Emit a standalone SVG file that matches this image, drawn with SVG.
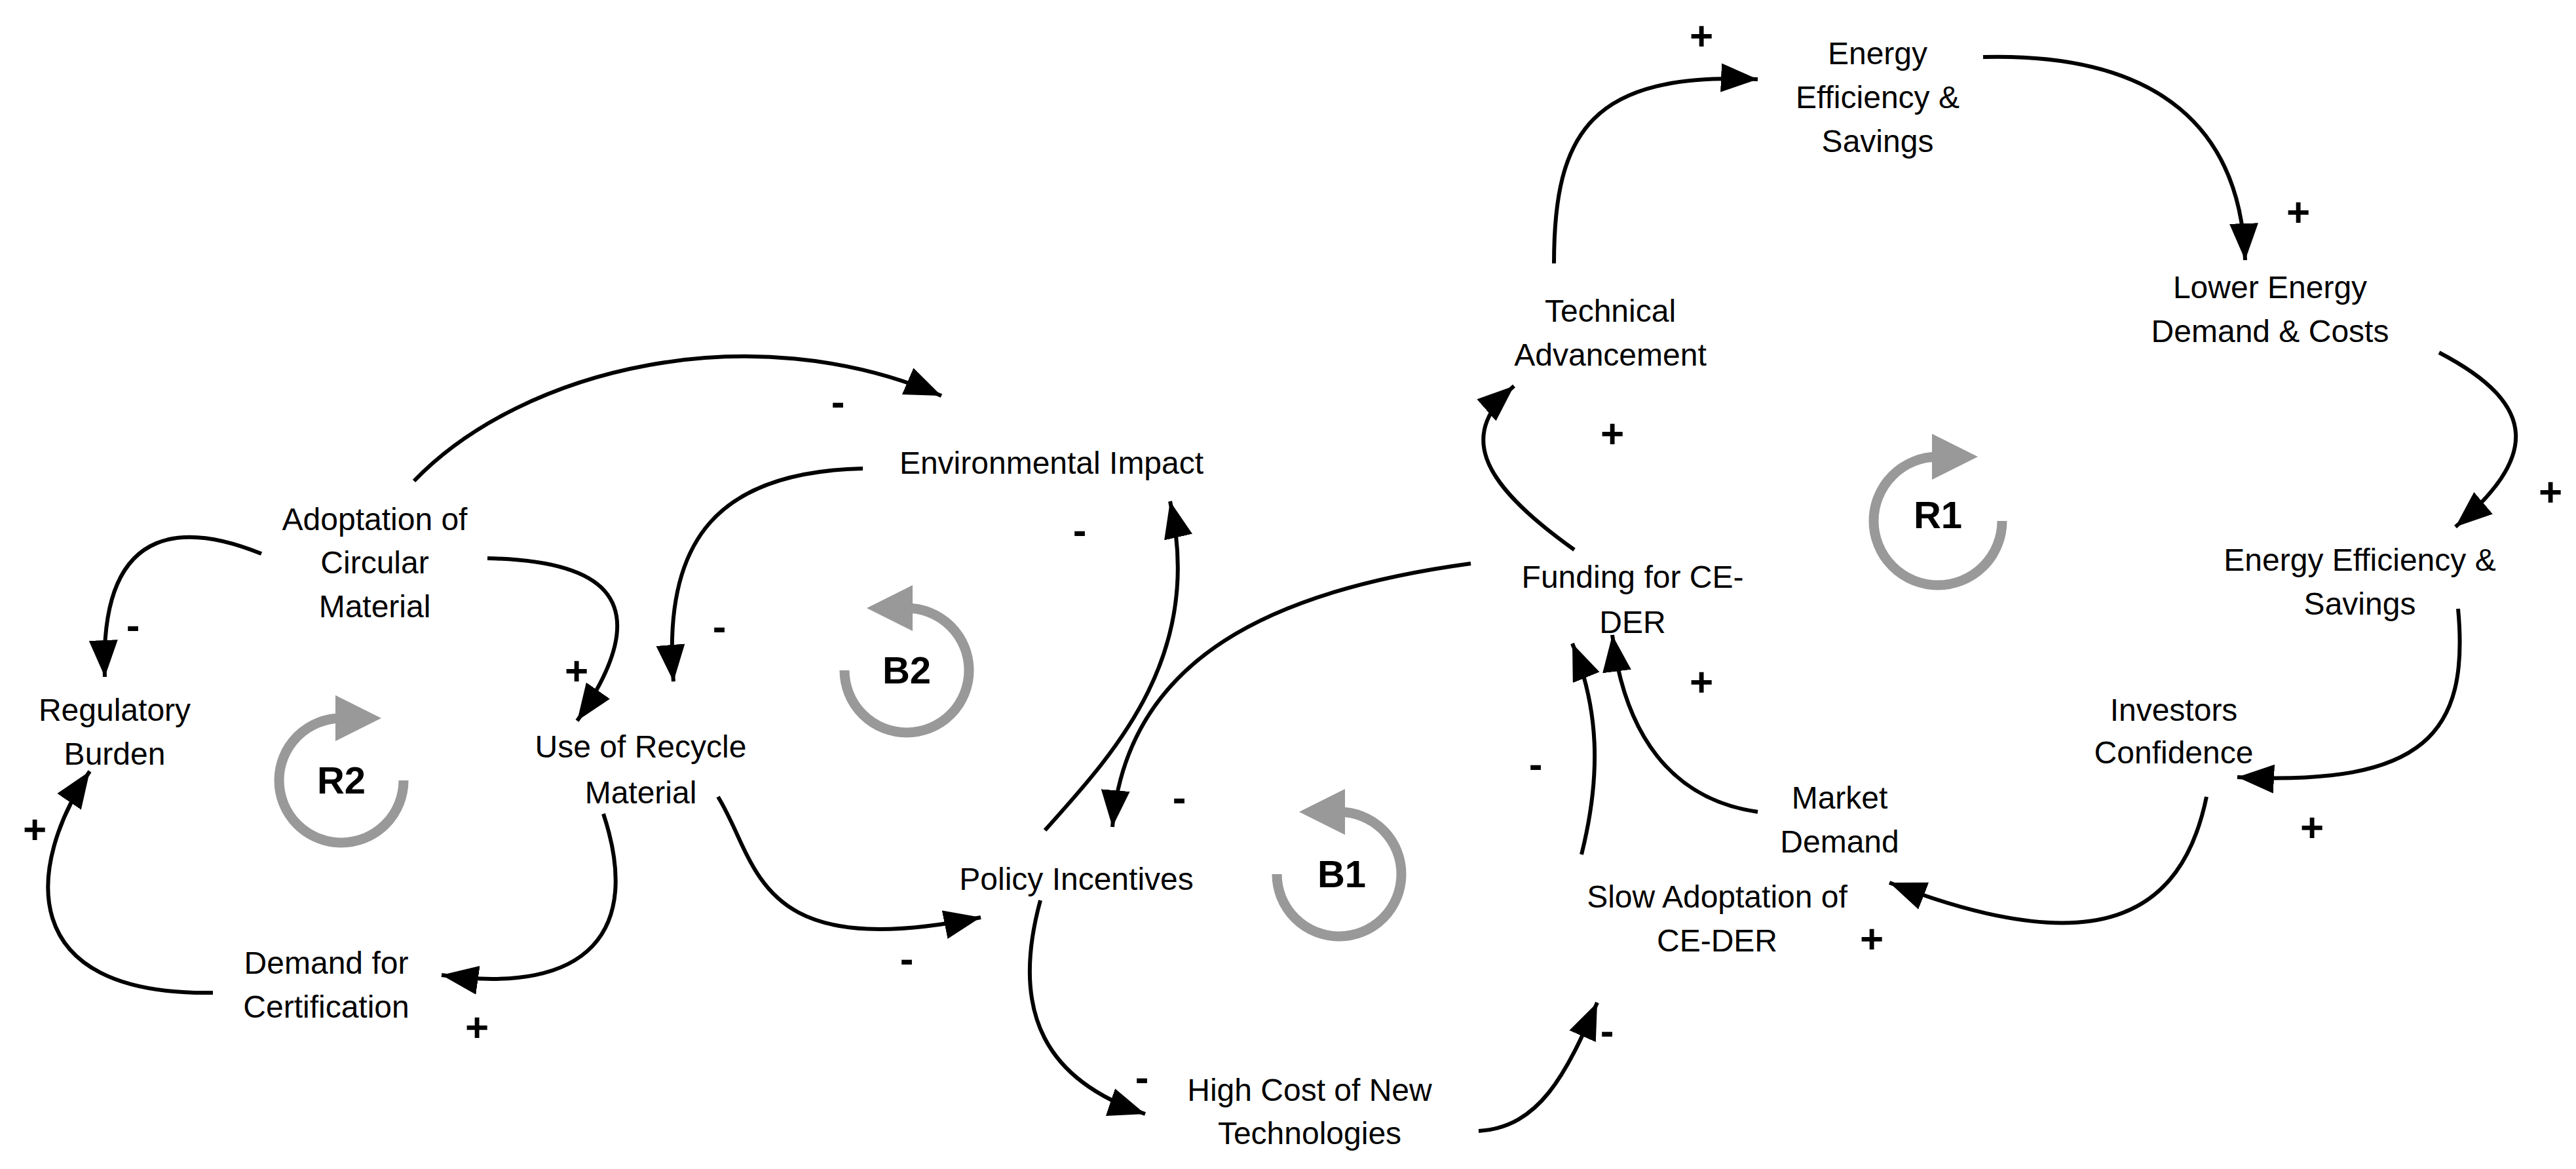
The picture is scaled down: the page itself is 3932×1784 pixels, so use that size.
<svg xmlns="http://www.w3.org/2000/svg" width="3932" height="1784" viewBox="0 0 3932 1784">
<style>
text{font-family:"Liberation Sans",Arial,sans-serif;fill:#000}
.n{font-size:48px;text-anchor:middle}
.s{font-size:62px;font-weight:bold;text-anchor:middle}
.lbl{font-size:58px;font-weight:bold;text-anchor:middle}
.c{fill:none;stroke:#000;stroke-width:6;marker-end:url(#ah)}
.loop{fill:none;stroke:#999;stroke-width:15}
.tri{fill:#999}
</style>
<defs>
<marker id="ah" markerUnits="userSpaceOnUse" markerWidth="60" markerHeight="50" refX="56" refY="22" orient="auto">
<path d="M0,0 L56,22 L0,44 Z" fill="#000"/>
</marker>
</defs>
<rect width="3932" height="1784" fill="#fff"/>
<g id="connectors">
<path class="c" d="M399,845 C300,805 150,780 160,1033"/>
<path class="c" d="M744,852 C900,855 1020,900 881,1100"/>
<path class="c" d="M921,1242 C980,1420 900,1520 674,1488"/>
<path class="c" d="M325,1515 C20,1520 40,1320 137,1177"/>
<path class="c" d="M632,734 C800,560 1150,480 1437,604"/>
<path class="c" d="M1317,715 C1100,720 1010,820 1028,1040"/>
<path class="c" d="M1096,1216 C1160,1320 1150,1470 1497,1400"/>
<path class="c" d="M1595,1267 C1700,1150 1840,1000 1786,765"/>
<path class="c" d="M2245,860 C1950,900 1720,1000 1698,1262"/>
<path class="c" d="M1588,1374 C1540,1550 1600,1650 1748,1700"/>
<path class="c" d="M2257,1726 C2350,1720 2390,1640 2438,1530"/>
<path class="c" d="M2414,1304 C2445,1180 2440,1080 2400,982"/>
<path class="c" d="M2683,1239 C2550,1220 2480,1120 2461,969"/>
<path class="c" d="M2403,839 C2250,730 2230,660 2311,589"/>
<path class="c" d="M2372,402 C2372,200 2430,110 2683,121"/>
<path class="c" d="M3027,87 C3300,80 3420,200 3427,397"/>
<path class="c" d="M3723,538 C3880,620 3870,700 3748,804"/>
<path class="c" d="M3752,929 C3770,1120 3700,1200 3415,1186"/>
<path class="c" d="M3368,1216 C3330,1400 3200,1470 2884,1347"/>
</g>
<g id="signs">
<text class="s" x="203" y="975">-</text>
<text class="s" x="880" y="1045">+</text>
<text class="s" x="53" y="1287">+</text>
<text class="s" x="728" y="1589">+</text>
<text class="s" x="1279" y="634">-</text>
<text class="s" x="1098" y="977">-</text>
<text class="s" x="1648" y="830">-</text>
<text class="s" x="1384" y="1484">-</text>
<text class="s" x="1800" y="1238">-</text>
<text class="s" x="1743" y="1665">-</text>
<text class="s" x="2453" y="1594">-</text>
<text class="s" x="2344" y="1187">-</text>
<text class="s" x="2597" y="1062">+</text>
<text class="s" x="2461" y="683">+</text>
<text class="s" x="2597" y="76">+</text>
<text class="s" x="3508" y="345">+</text>
<text class="s" x="3893" y="772">+</text>
<text class="s" x="3529" y="1284">+</text>
<text class="s" x="2857" y="1454">+</text>
</g>
<g id="loop-R2">
<path class="loop" d="M521,1096 A95,95 0 1 0 616,1191"/>
<path class="tri" d="M512,1061 L582,1096 L512,1131 Z"/>
<text class="lbl" x="521" y="1211">R2</text>
</g>
<g id="loop-B2">
<path class="loop" d="M1384,928 A95,95 0 1 1 1289,1023"/>
<path class="tri" d="M1393,893 L1323,928 L1393,963 Z"/>
<text class="lbl" x="1384" y="1043">B2</text>
</g>
<g id="loop-B1">
<path class="loop" d="M2044,1239 A95,95 0 1 1 1949,1334"/>
<path class="tri" d="M2053,1204 L1983,1239 L2053,1274 Z"/>
<text class="lbl" x="2048" y="1354">B1</text>
</g>
<g id="loop-R1">
<path class="loop" d="M2958,697 A98,98 0 1 0 3056,795"/>
<path class="tri" d="M2949,662 L3019,697 L2949,732 Z"/>
<text class="lbl" x="2958" y="806">R1</text>
</g>
<g id="n-adoption"><text class="n" x="572" y="809">Adoptation of</text><text class="n" x="572" y="875">Circular</text><text class="n" x="572" y="942">Material</text></g>
<g id="n-regulatory"><text class="n" x="175" y="1100">Regulatory</text><text class="n" x="175" y="1167">Burden</text></g>
<g id="n-recycle"><text class="n" x="978" y="1156">Use of Recycle</text><text class="n" x="978" y="1226">Material</text></g>
<g id="n-cert"><text class="n" x="498" y="1486">Demand for</text><text class="n" x="498" y="1553">Certification</text></g>
<g id="n-env"><text class="n" x="1605" y="723">Environmental Impact</text></g>
<g id="n-policy"><text class="n" x="1643" y="1358">Policy Incentives</text></g>
<g id="n-highcost"><text class="n" x="1999" y="1680">High Cost of New</text><text class="n" x="1999" y="1746">Technologies</text></g>
<g id="n-slow"><text class="n" x="2621" y="1385">Slow Adoptation of</text><text class="n" x="2621" y="1452">CE-DER</text></g>
<g id="n-funding"><text class="n" x="2492" y="897">Funding for CE-</text><text class="n" x="2492" y="966">DER</text></g>
<g id="n-tech"><text class="n" x="2458" y="491">Technical</text><text class="n" x="2458" y="558">Advancement</text></g>
<g id="n-energy1"><text class="n" x="2866" y="98">Energy</text><text class="n" x="2866" y="165">Efficiency &amp;</text><text class="n" x="2866" y="232">Savings</text></g>
<g id="n-lower"><text class="n" x="3465" y="455">Lower Energy</text><text class="n" x="3465" y="522">Demand &amp; Costs</text></g>
<g id="n-energy2"><text class="n" x="3602" y="871">Energy Efficiency &amp;</text><text class="n" x="3602" y="938">Savings</text></g>
<g id="n-investors"><text class="n" x="3318" y="1100">Investors</text><text class="n" x="3318" y="1165">Confidence</text></g>
<g id="n-market"><text class="n" x="2808" y="1234">Market</text><text class="n" x="2808" y="1301">Demand</text></g>
</svg>
